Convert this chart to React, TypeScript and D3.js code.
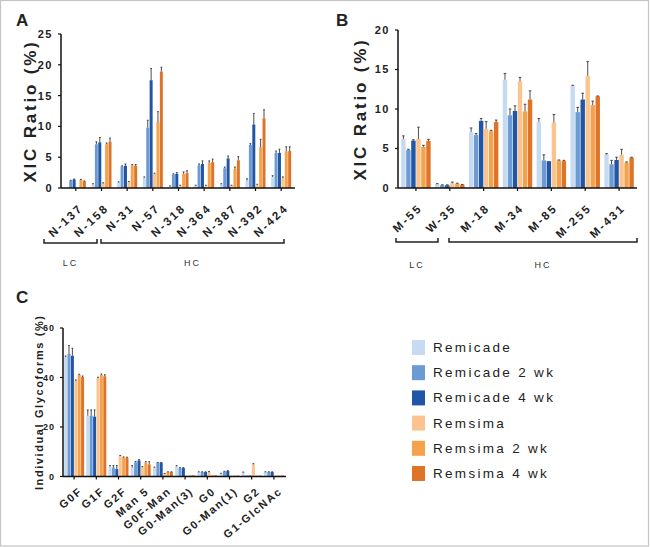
import React from "react";
import * as d3 from "d3";

const seriesNames = ["Remicade", "Remicade 2 wk", "Remicade 4 wk", "Remsima", "Remsima 2 wk", "Remsima 4 wk"];
const seriesColors = ["#c6daf1", "#6b9bd2", "#2156a7", "#fbc48e", "#f6a24c", "#df7428"];

// Panel A
const sitesA = ["N-137", "N-158", "N-31", "N-57", "N-318", "N-364", "N-387", "N-392", "N-424"];
const valuesA = [
  [0.1, 1.2, 1.4, 0.1, 1.3, 1.1],
  [0.6, 7.1, 7.4, 0.75, 7.1, 7.5],
  [0.9, 3.5, 3.6, 1.0, 3.7, 3.6],
  [1.7, 9.8, 17.5, 2.3, 10.7, 18.9],
  [0.3, 2.2, 2.3, 0.4, 2.3, 2.4],
  [0.4, 3.7, 3.9, 0.4, 4.1, 4.2],
  [0.65, 3.2, 4.8, 0.4, 3.1, 4.5],
  [1.2, 7.0, 10.3, 0.55, 6.6, 11.3],
  [1.8, 5.7, 5.7, 1.6, 5.95, 6.0],
];
const errorsA = [
  [0, 0.05, 0.05, 0, 0.1, 0.05],
  [0.1, 0.4, 0.8, 0.1, 0.2, 0.6],
  [0.1, 0.1, 0.3, 0.05, 0.1, 0.2],
  [0.1, 1.2, 1.9, 0.1, 1.7, 0.7],
  [0.05, 0.1, 0.2, 0.05, 0.3, 0.4],
  [0.05, 0.2, 0.5, 0.05, 0.3, 0.5],
  [0.05, 0.2, 0.4, 0.05, 0.3, 0.6],
  [0.3, 0.2, 1.8, 0.05, 1.3, 1.4],
  [0.2, 0.3, 0.6, 0.2, 0.75, 0.7],
];
const ticksA = [0, 5, 10, 15, 20, 25];

// Panel B
const sitesB = ["M-55", "W-35", "M-18", "M-34", "M-85", "M-255", "M-431"];
const valuesB = [
  [6.2, 4.8, 6.0, 6.2, 5.2, 5.95],
  [0.5, 0.35, 0.35, 0.6, 0.55, 0.4],
  [7.1, 6.7, 8.5, 7.5, 7.2, 8.35],
  [13.7, 9.2, 9.75, 13.5, 9.7, 11.2],
  [8.4, 3.5, 3.4, 8.3, 3.5, 3.4],
  [12.9, 9.6, 11.2, 14.2, 10.5, 11.6],
  [4.25, 3.0, 3.55, 4.2, 3.2, 3.85],
];
const errorsB = [
  [0.4, 0.1, 0.1, 1.5, 0.2, 0.2],
  [0.05, 0.05, 0.05, 0.15, 0.05, 0.05],
  [0.5, 0.2, 0.3, 0.9, 0.1, 0.25],
  [0.8, 0.8, 0.65, 0.5, 0.9, 1.1],
  [0.4, 0.7, 0, 1.0, 0.05, 0.1],
  [0.1, 0.6, 0.8, 1.8, 0.5, 0.05],
  [0.1, 0.5, 0.35, 0.7, 0.1, 0.05],
];
const ticksB = [0, 5, 10, 15, 20];

// Panel C
const glycoforms = ["G0F", "G1F", "G2F", "Man 5", "G0F-Man", "G0-Man(3)", "G0", "G0-Man(1)", "G2", "G1-GlcNAc"];
const valuesC = [
  [48.4, 49.5, 48.8, 38.6, 41.0, 40.2],
  [24.6, 24.6, 24.2, 39.7, 41.0, 40.5],
  [4.1, 3.6, 3.0, 8.3, 7.7, 7.6],
  [3.6, 5.7, 6.5, 3.8, 5.6, 4.9],
  [3.6, 5.6, 5.6, 1.1, 1.8, 1.8],
  [4.1, 3.4, 3.4, 0.5, 0.5, 0.5],
  [1.8, 1.8, 1.8, 1.6, 0.5, 0.5],
  [1.2, 2.0, 2.2, 0.4, 0.4, 0.4],
  [1.7, 0.4, 0.4, 4.9, 0.4, 0.4],
  [1.8, 1.8, 1.8, 0.4, 0.4, 0.4],
];
const errorsC = [
  [0.3, 3.4, 3.0, 0.4, 0.3, 0.4],
  [2.3, 2.3, 2.7, 0.4, 0.4, 0.6],
  [0.3, 0.8, 1.4, 0.2, 0.2, 0.2],
  [0.8, 0.4, 0.3, 0.2, 0.4, 1.1],
  [0.2, 0.1, 0.1, 0.1, 0.1, 0.1],
  [0.3, 0.2, 0.2, 0, 0, 0],
  [0.1, 0.1, 0.1, 0.4, 0, 0],
  [0.1, 0.1, 0.2, 0, 0, 0],
  [0.1, 0, 0, 0.3, 0, 0],
  [0.1, 0.1, 0.1, 0, 0, 0],
];
const ticksC = [0, 20, 40, 60];

const FONT = "'Liberation Sans', Arial, sans-serif";

type PanelProps = {
  cats: string[];
  values: number[][];
  errors: number[][];
  ticks: number[];
  xRange: [number, number];
  axisLeft: number;
  y0: number;
  yTop: number;
  groupPad: number;
  tickFont: number;
  tickLS: number;
  catFont: number;
  catLS: number;
  catAngle: number;
  catDx: number;
  catDy: number;
  title: string;
  titleX: number;
  titleFont: number;
  titleLS: number;
};

function BarPanel(p: PanelProps) {
  const yMax = p.ticks[p.ticks.length - 1];
  const x = d3.scaleBand<string>().domain(p.cats).range(p.xRange).paddingInner(p.groupPad).paddingOuter(p.groupPad / 2);
  const xi = d3.scaleBand<number>().domain(d3.range(seriesNames.length)).range([0, x.bandwidth()]).paddingInner(0.12);
  const y = d3.scaleLinear().domain([0, yMax]).range([p.y0, p.yTop]);
  const xEnd = p.xRange[1] + 1;
  return (
    <g>
      {p.cats.map((c, ci) => (
        <g key={c} transform={`translate(${x(c)},0)`}>
          {p.values[ci].map((v, si) => {
            const bx = xi(si)!;
            const bw = xi.bandwidth();
            const top = y(v);
            const etop = y(v + p.errors[ci][si]);
            return (
              <g key={si}>
                <rect x={bx} y={top} width={bw} height={p.y0 - top} fill={seriesColors[si]} />
                {p.errors[ci][si] > 0 && (
                  <g stroke="#3a3a3a" strokeWidth={0.9}>
                    <line x1={bx + bw / 2} x2={bx + bw / 2} y1={top} y2={etop} />
                    <line x1={bx + bw * 0.2} x2={bx + bw * 0.8} y1={etop} y2={etop} />
                  </g>
                )}
              </g>
            );
          })}
        </g>
      ))}
      <line x1={p.axisLeft} x2={p.axisLeft} y1={p.yTop} y2={p.y0} stroke="#111" strokeWidth={1.5} />
      <line x1={p.axisLeft} x2={xEnd} y1={p.y0} y2={p.y0} stroke="#111" strokeWidth={1.5} />
      {p.ticks.map((t) => (
        <g key={t}>
          <line x1={p.axisLeft - 3} x2={p.axisLeft} y1={y(t)} y2={y(t)} stroke="#111" strokeWidth={1.2} />
          <text
            x={p.axisLeft - 8}
            y={y(t)}
            dy="0.36em"
            textAnchor="end"
            fontFamily={FONT}
            fontWeight="bold"
            fontSize={p.tickFont}
            letterSpacing={p.tickLS}
            fill="#222"
          >
            {t}
          </text>
        </g>
      ))}
      {p.cats.map((c) => {
        const cx = x(c)! + x.bandwidth() / 2;
        return (
          <g key={c}>
            <line x1={cx} x2={cx} y1={p.y0} y2={p.y0 + 3} stroke="#111" strokeWidth={1.2} />
            <text
              transform={`translate(${cx + p.catDx},${p.y0 + p.catDy}) rotate(${p.catAngle})`}
              textAnchor="end"
              fontFamily={FONT}
              fontWeight="bold"
              fontSize={p.catFont}
              letterSpacing={p.catLS}
              fill="#222"
            >
              {c}
            </text>
          </g>
        );
      })}
      <text
        transform={`translate(${p.titleX},${(p.y0 + p.yTop) / 2}) rotate(-90)`}
        textAnchor="middle"
        fontFamily={FONT}
        fontWeight="bold"
        fontSize={p.titleFont}
        letterSpacing={p.titleLS}
        fill="#222"
      >
        {p.title}
      </text>
    </g>
  );
}

function Bracket({ x1, x2, y, label, labelY }: { x1: number; x2: number; y: number; label: string; labelY: number }) {
  return (
    <g>
      <path d={`M${x1},${y - 4}V${y}H${x2}V${y - 4}`} fill="none" stroke="#222" strokeWidth={1.5} />
      <text x={(x1 + x2) / 2} y={labelY} textAnchor="middle" fontFamily={FONT} fontSize={9} letterSpacing={2} fill="#333">
        {label}
      </text>
    </g>
  );
}

export default function App() {
  return (
    <svg width={650} height={547} style={{ position: "absolute", left: 0, top: 0, background: "#fff" }}>
      <rect x={0.5} y={0.5} width={648} height={545.5} fill="#fff" stroke="#c4c4c4" strokeWidth={1.2} />

      <text x={16} y={26} fontFamily={FONT} fontWeight="bold" fontSize={17} fill="#222">A</text>
      <BarPanel
        cats={sitesA}
        values={valuesA}
        errors={errorsA}
        ticks={ticksA}
        xRange={[63, 294]}
        axisLeft={61}
        y0={188}
        yTop={34}
        groupPad={0.22}
        tickFont={11}
        tickLS={1.5}
        catFont={11.5}
        catLS={2.2}
        catAngle={-43}
        catDx={8}
        catDy={21}
        title="XIC Ratio (%)"
        titleX={36}
        titleFont={17}
        titleLS={2.8}
      />
      <Bracket x1={44} x2={97} y={243} label="LC" labelY={266} />
      <Bracket x1={101} x2={284} y={243} label="HC" labelY={266} />

      <text x={336} y={26} fontFamily={FONT} fontWeight="bold" fontSize={17} fill="#222">B</text>
      <BarPanel
        cats={sitesB}
        values={valuesB}
        errors={errorsB}
        ticks={ticksB}
        xRange={[399, 636]}
        axisLeft={398}
        y0={188}
        yTop={30}
        groupPad={0.13}
        tickFont={11}
        tickLS={1.5}
        catFont={11.5}
        catLS={2.2}
        catAngle={-43}
        catDx={7}
        catDy={21}
        title="XIC Ratio (%)"
        titleX={366}
        titleFont={17}
        titleLS={2.8}
      />
      <Bracket x1={396} x2={438} y={242} label="LC" labelY={268} />
      <Bracket x1={449} x2={637} y={242} label="HC" labelY={268} />

      <text x={16} y={303} fontFamily={FONT} fontWeight="bold" fontSize={17} fill="#222">C</text>
      <BarPanel
        cats={glycoforms}
        values={valuesC}
        errors={errorsC}
        ticks={ticksC}
        xRange={[63, 285]}
        axisLeft={63}
        y0={476.5}
        yTop={328}
        groupPad={0.1}
        tickFont={9}
        tickLS={1}
        catFont={11}
        catLS={1.6}
        catAngle={-40}
        catDx={9}
        catDy={16}
        title="Individual Glycoforms (%)"
        titleX={43}
        titleFont={11}
        titleLS={1.6}
      />

      {seriesNames.map((s, i) => (
        <g key={s} transform={`translate(412,${340 + i * 25.2})`}>
          <rect x={0} y={0} width={13} height={15} fill={seriesColors[i]} />
          <text x={21} y={12} fontFamily={FONT} fontSize={13.5} letterSpacing={2.3} fill="#222">
            {s}
          </text>
        </g>
      ))}
    </svg>
  );
}
